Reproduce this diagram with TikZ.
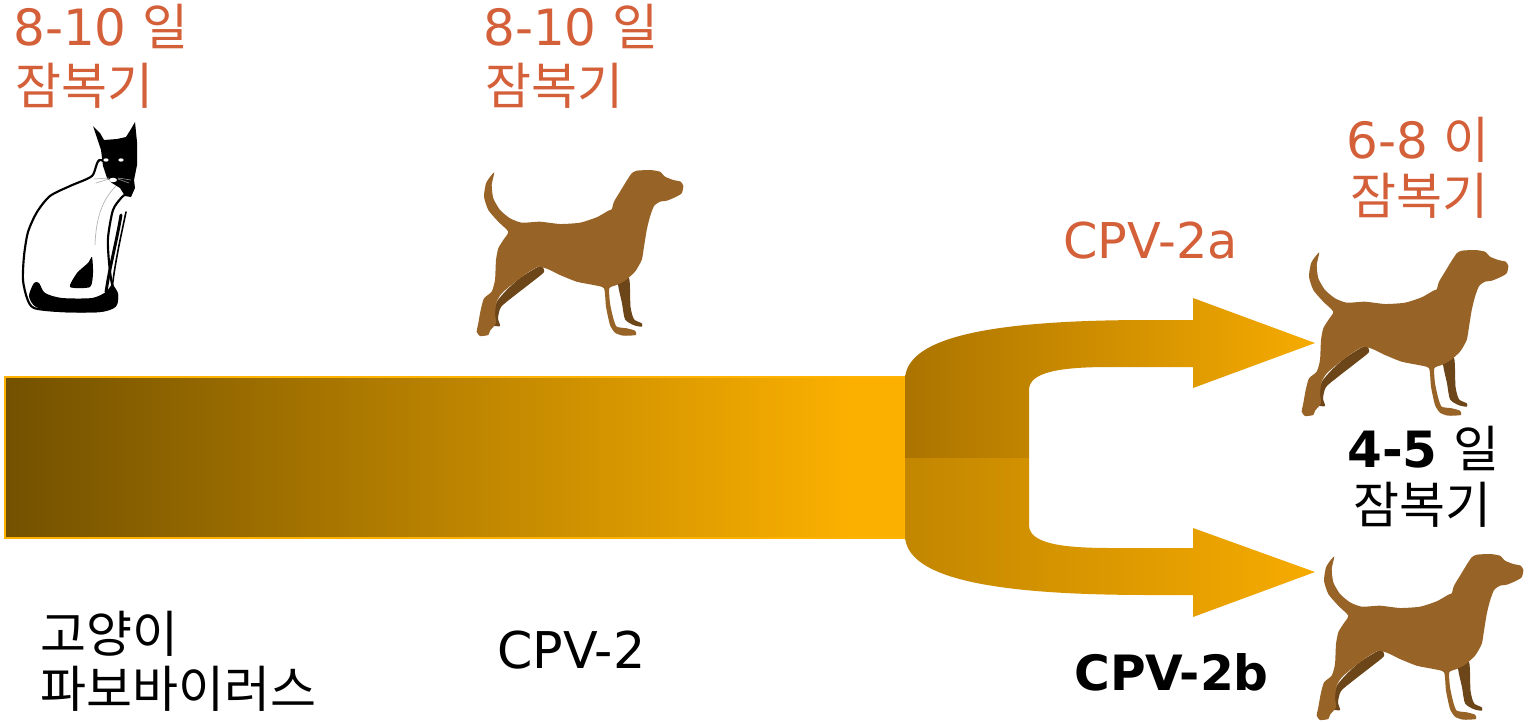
\documentclass[tikz,border=0pt]{standalone}
\usepackage{fontspec}
\setmainfont{DejaVu Sans}
\newfontfamily\kr{Noto Sans CJK KR}
\definecolor{labelorange}{HTML}{D4603A}
\definecolor{dogbrown}{HTML}{986326}
\definecolor{dogshade}{HTML}{6C4519}
\definecolor{bardark}{HTML}{735100}
\definecolor{barlight}{HTML}{FBB000}
\definecolor{barrim}{HTML}{FFB300}
\definecolor{upleft}{HTML}{AB7400}
\definecolor{lowleft}{HTML}{C28600}
\definecolor{headcol}{HTML}{F6AB00}
\pgfdeclarehorizontalshading{barshade}{100bp}{color(0bp)=(bardark); color(25bp)=(bardark); color(72bp)=(barlight); color(100bp)=(barlight)}
\tikzset{
  lbl/.style={inner sep=0pt, anchor=base west, font=\fontsize{37.5}{42}\selectfont},
  big/.style={inner sep=0pt, anchor=base west, font=\fontsize{#1}{42}\selectfont},
  bigbold/.style={inner sep=0pt, anchor=base west, font=\fontsize{#1}{42}\selectfont\bfseries},
  dog/.pic={
    % far legs, darker
    \fill[dogshade] plot[smooth cycle, tension=0.4] coordinates {
      (80,106) (60,118) (46.7,130) (36.7,142) (33.3,156.7) (31.7,165)
      (40,166) (38,158.3) (41,147) (54,136) (72,122) (84,112)};
    \fill[dogshade] plot[smooth cycle, tension=0.4] coordinates {
      (158,121.7) (162,143.3) (165,159.3) (173.3,165) (181.7,166.7)
      (181.7,163.3) (174,159.3) (170.5,146.7) (169,118)};
    % body silhouette
    \fill[dogbrown] plot[smooth cycle, tension=0.35] coordinates {
      (34.3,12.7) (31.7,25) (33.3,38.3) (40,50) (50,58.3) (61.7,62.7) (80,61.7)
      (100,64) (120,62.7) (136.7,57.3) (148.3,50.7) (151.7,49.3) (154,41.7)
      (160,31.7) (166.7,20.7) (171.7,13.3) (176.7,10.7) (190,10) (200,11.7)
      (205,16.7) (213.3,20) (220.7,21.7) (223.3,26) (221.7,33.3) (215,37.3)
      (206.7,40.7) (200,41.7) (194,46) (190,56.7) (186.7,70) (184,86.7)
      (181.7,100) (175,111.7) (165,120.7) (156.7,125) (149.3,128.3)
      (150,143.3) (153.3,158.3) (156.7,166.7) (166.7,168.3) (175,170.7)
      (176,175) (163.3,175.7) (155,172.7) (150,165) (146,146.7) (144,128.3)
      (133.3,125) (116.7,121.7) (100,115) (88.3,109.3) (78.3,106.7)
      (66.7,113.3) (53.3,123.3) (41.7,133.3) (36.7,141.7) (35,153.3)
      (36,163.3) (30,170.7) (28.3,175) (20,176) (16.7,171.7) (18.3,163.3)
      (20.7,150) (24,138.3) (31.7,131.7) (35,120) (36,100) (38.3,88.3)
      (43.3,80) (48.3,71.7) (38.3,61.7) (28.3,50) (24,36.7) (26,23.3) (30.7,16)};
  }
}
\begin{document}
\begin{tikzpicture}[x=0.75pt,y=-0.75pt]
\path[use as bounding box, fill=white] (0,0) rectangle (1537,721);

% ---- cat ----
\fill[white, draw=black, line width=1.6pt] plot[smooth cycle, tension=0.45] coordinates {
  (101,160) (92,176) (70,186) (50,196) (37,212) (28,232) (24,256) (23,280)
  (27,298) (34,308) (60,311) (100,311) (115,306) (117,294) (112,284)
  (109,262) (108,238) (113,210) (122,197) (133,186)};
\draw[gray!60, line width=0.5pt] (116,186) .. controls (102,200) and (96,218) .. (95,245);
\fill[black] plot[smooth cycle, tension=0.45] coordinates {
  (34,283) (29,296) (36,307) (60,312) (100,312) (116,306) (118,294)
  (112,285) (106,292) (92,298) (62,298) (45,293) (39,283)};
\fill[black] plot[smooth cycle, tension=0.4] coordinates {
  (70,287) (77,273) (88,263) (92,257) (93,273) (90,287)};
\draw[black, line width=2.2pt, line cap=round] (121,215) .. controls (117,240) and (110,265) .. (106,292);
\draw[black, line width=1.2pt, line cap=round] (126,212) .. controls (120,240) and (114,268) .. (112,290);
\fill[black] (93,126) -- (100,133) -- (104,140) -- (117,139) -- (126,137)
  -- (131,129) -- (135,122) -- (137,142) -- (137,165) -- (134,180)
  -- (135,188) -- (131,197) -- (125,196) -- (120,188) -- (112,183)
  -- (107,178) -- (103,166) -- (101,150) -- (97,138) -- cycle;
\fill[white] (106,160) ellipse [x radius=2.6, y radius=1.7];
\fill[white] (121,160) ellipse [x radius=2.6, y radius=1.7];
\fill[white] (113,180) ellipse [x radius=4, y radius=2.2];
\draw[gray!70, line width=0.4pt] (109,178) -- (94,179) (109,179) -- (96,183)
  (118,178) -- (131,180) (118,179) -- (129,183);

% ---- dogs ----
\pic (dogA) at (460,160) {dog};
\pic (dogB) at (1285,240) {dog};
\pic (dogC) at (1300,544) {dog};

% ---- main bar ----
\fill[shading=barshade, draw=barrim, line width=1.8pt] (5,377) rectangle (905,538);

% ---- split arrows ----
\shade[left color=upleft, right color=headcol]
  (905,458) -- (905,380) .. controls (905,335) and (1000,320) .. (1150,320)
  -- (1193,320) -- (1193,298) -- (1315,343) -- (1193,388) -- (1193,367)
  -- (1110,367) .. controls (1060,367) and (1029,372) .. (1029,390)
  -- (1029,458) -- cycle;
\shade[left color=lowleft, right color=headcol]
  (905,458) -- (905,535) .. controls (905,580) and (1000,595) .. (1150,595)
  -- (1193,595) -- (1193,617) -- (1315,572) -- (1193,528) -- (1193,548)
  -- (1110,548) .. controls (1060,548) and (1029,543) .. (1029,525)
  -- (1029,458) -- cycle;

% ---- labels ----
\node[lbl, text=labelorange] (catdays) at (13,45) {8-10 {\kr 일}};
\node[lbl, text=labelorange] (catinc) at (15,104) {\kr 잠복기};
\node[lbl, text=labelorange] (dogdays) at (483,45) {8-10 {\kr 일}};
\node[lbl, text=labelorange] (doginc) at (485,104) {\kr 잠복기};
\node[lbl, text=labelorange] (adays) at (1346,158) {6-8 {\kr 이}};
\node[lbl, text=labelorange] (ainc) at (1350,214) {\kr 잠복기};
\node[big=37, text=labelorange] (cpva) at (1063,258) {CPV-2a};
\node[lbl] (bdays) at (1347,467) {\textbf{4-5} {\kr 일}};
\node[lbl] (binc) at (1353,523) {\kr 잠복기};
\node[lbl] (fpv1) at (40,652) {\kr 고양이};
\node[lbl] (fpv2) at (40,707) {\kr 파보바이러스};
\node[big=38] (cpv) at (497,668) {CPV-2};
\node[bigbold=36.5] (cpvb) at (1074,690) {CPV-2b};
\end{tikzpicture}
\end{document}
